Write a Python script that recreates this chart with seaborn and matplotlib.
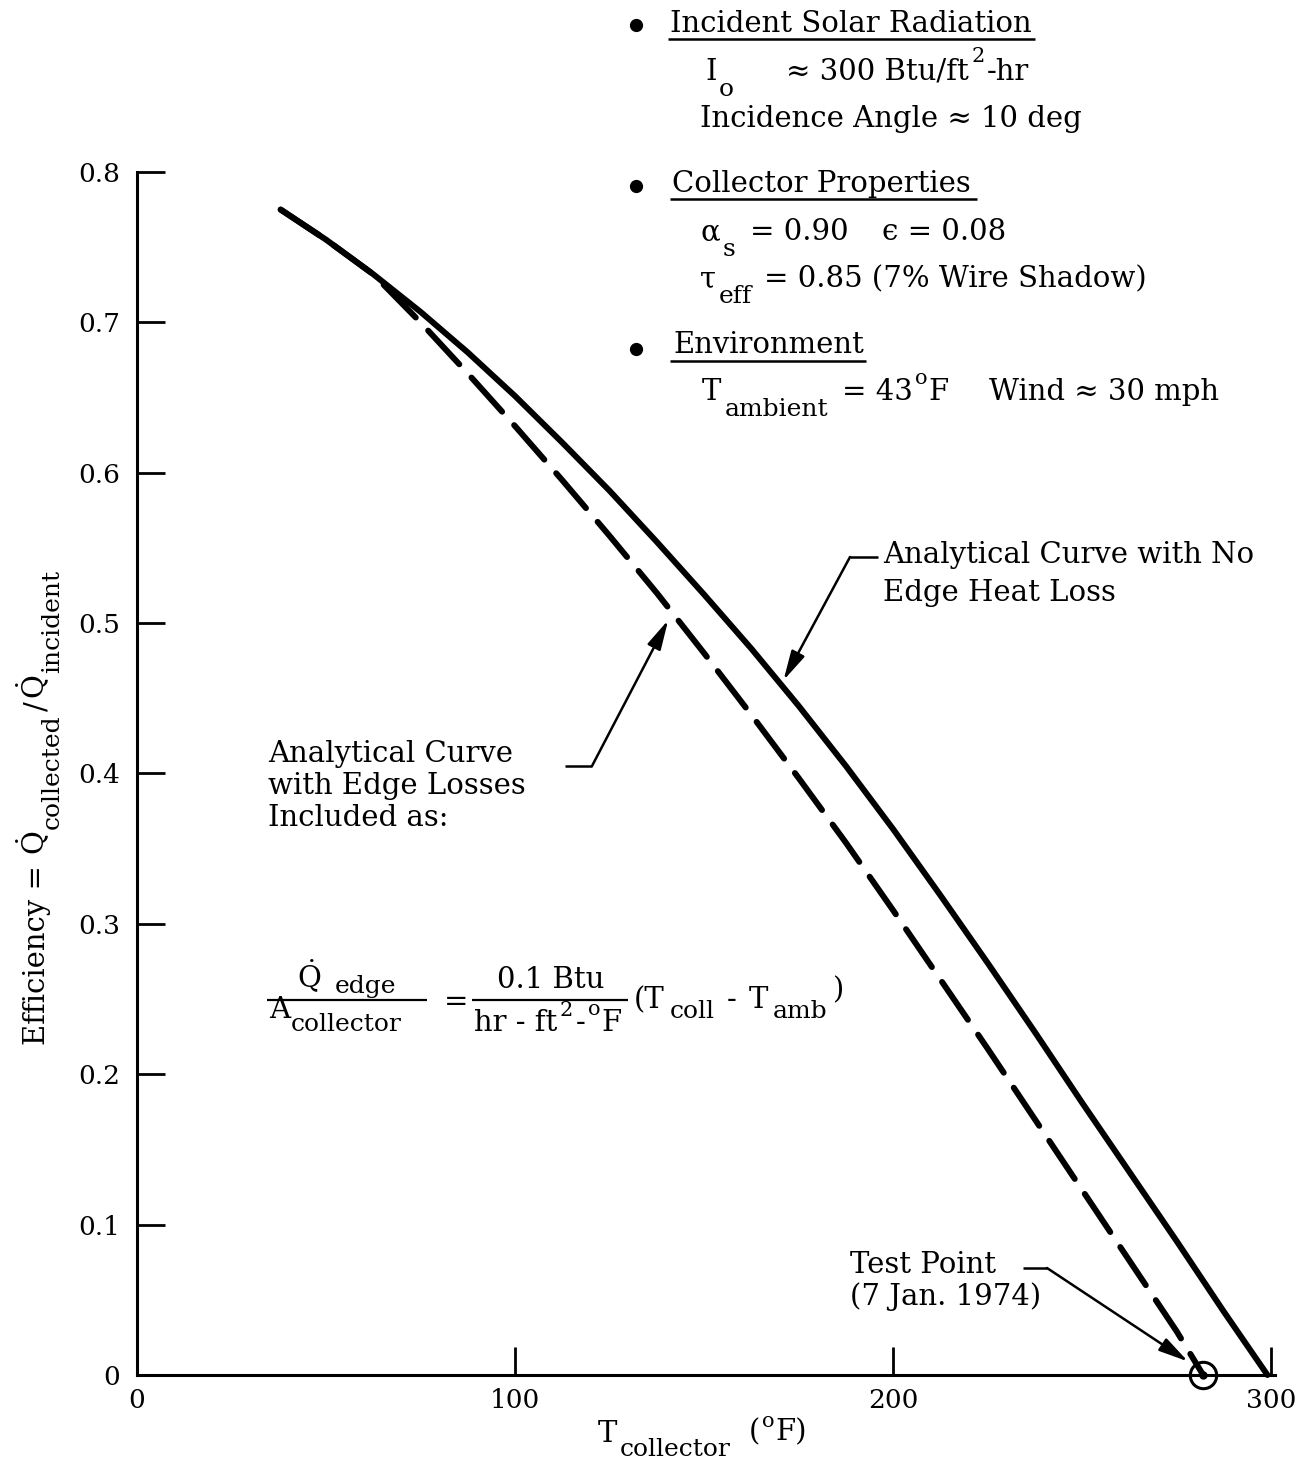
import matplotlib
matplotlib.use("Agg")
import matplotlib.pyplot as plt
from matplotlib.lines import Line2D
import numpy as np
import pandas as pd
import seaborn as sns

# Collector temperature (deg F) and efficiency for the two analytical curves
t_no_edge = [38, 50, 62.5, 75, 87.5, 100, 112.5, 125, 137.5, 150, 162.5, 175, 187.5,
             200, 212.5, 225, 237.5, 250, 262.5, 275, 287.5, 299]
eff_no_edge = [0.775, 0.755, 0.732, 0.707, 0.680, 0.651, 0.620, 0.588, 0.554, 0.519,
               0.483, 0.445, 0.405, 0.363, 0.319, 0.274, 0.228, 0.181, 0.135, 0.089,
               0.042, 0.0]

t_edge = [38, 50, 62.5, 75, 87.5, 100, 112.5, 125, 137.5, 150, 162.5, 175, 187.5,
          200, 212.5, 225, 237.5, 250, 262.5, 275, 282]
eff_edge = [0.775, 0.755, 0.732, 0.700, 0.666, 0.631, 0.595, 0.558, 0.520, 0.480,
            0.439, 0.397, 0.354, 0.309, 0.263, 0.217, 0.170, 0.123, 0.076, 0.029, 0.0]

# Measured test point (7 Jan. 1974)
test_t = [282]
test_eff = [0.0]

x_ticks = [0, 100, 200, 300]
x_tick_labels = ["0", "100", "200", "300"]
y_ticks = [0, 0.1, 0.2, 0.3, 0.4, 0.5, 0.6, 0.7, 0.8]
y_tick_labels = ["0", "0.1", "0.2", "0.3", "0.4", "0.5", "0.6", "0.7", "0.8"]

curves = pd.concat([
    pd.DataFrame({"T": t_no_edge, "eff": eff_no_edge, "curve": "no edge loss"}),
    pd.DataFrame({"T": t_edge, "eff": eff_edge, "curve": "edge losses"}),
], ignore_index=True)

sns.set_theme(style="ticks")
plt.rcParams["font.family"] = ["DejaVu Serif", "DejaVu Sans"]
plt.rcParams["mathtext.fontset"] = "dejavuserif"
plt.rcParams["lines.scale_dashes"] = False

W, H = 1309, 1462
fig = plt.figure(figsize=(W / 100, H / 100), dpi=100)
fig.patch.set_facecolor("white")
ax = fig.add_axes([137 / W, 1 - 1375 / H, (1275 - 137) / W, (1375 - 172) / H])
ax.set_facecolor("white")
renderer = fig.canvas.get_renderer()

FS = 21      # body text
SUB = 18     # subscripts
SUP = 15     # superscripts
QDOT = r"$\dot{\rm Q}$"


def fx(x):
    return x / W


def fy(y):
    return 1 - y / H


def put(x, y, s, size=FS, **kw):
    return fig.text(fx(x), fy(y), s, fontsize=size, ha="left", va="baseline",
                    color="black", **kw)


def chain(x, y, pieces):
    """Lay out (text, size, dy, gap) pieces left to right from pixel (x, y)."""
    pos = x
    for s, size, dy, gap in pieces:
        pos += gap
        t = put(pos, y + dy, s, size)
        pos += t.get_window_extent(renderer).width
    return pos


def vchain(x, y, pieces):
    """Lay out (text, size, dx, gap) pieces bottom to top, rotated 90 degrees."""
    pos = y
    for s, size, dx, gap in pieces:
        pos -= gap
        t = fig.text(fx(x + dx), fy(pos), s, fontsize=size, rotation=90,
                     rotation_mode="anchor", ha="left", va="baseline", color="black")
        pos -= t.get_window_extent(renderer).height
    return pos


def hline(x0, x1, y, lw=1.8):
    fig.add_artist(Line2D([fx(x0), fx(x1)], [fy(y), fy(y)], transform=fig.transFigure,
                          color="black", lw=lw, solid_capstyle="butt"))


def bullet(x, y):
    fig.add_artist(Line2D([fx(x)], [fy(y)], transform=fig.transFigure, marker="o",
                          ms=8.5, color="black", lw=0))


# Curves
sns.lineplot(data=curves, x="T", y="eff", style="curve",
             dashes={"no edge loss": "", "edge losses": (33, 13)},
             color="black", lw=4.3, legend=False, errorbar=None, ax=ax,
             dash_capstyle="round", solid_capstyle="round", clip_on=False)

# Test point: circle with a centre dot
ax.plot(test_t, test_eff, marker="o", ms=19, mfc="none", mec="black", mew=2.2,
        lw=0, clip_on=False, zorder=5)
ax.plot(test_t, test_eff, marker="o", ms=5, color="black", lw=0, clip_on=False, zorder=6)

# Axes styling
ax.set_xlim(0, 301)
ax.set_ylim(0, 0.8)
ax.set_xticks(x_ticks)
ax.set_xticklabels(x_tick_labels)
ax.set_yticks(y_ticks)
ax.set_yticklabels(y_tick_labels)
ax.tick_params(axis="both", direction="in", length=20, width=2, colors="black",
               labelsize=19)
ax.tick_params(axis="y", pad=12)
ax.tick_params(axis="x", pad=9)
ax.set_xlabel("")
ax.set_ylabel("")
sns.despine(ax=ax)
for side in ("left", "bottom"):
    ax.spines[side].set_linewidth(2.2)
    ax.spines[side].set_color("black")

# Axis titles
chain(598, 1442, [("T", FS, 0, 0), ("collector", SUB, 14, 2), ("(", FS, -2, 18),
                  ("o", SUP, -15, 2), ("F)", FS, -2, 1)])
vchain(45, 1045, [("Efficiency =", FS, 0, 0), (QDOT, FS, 0, 10),
                  ("collected", SUB, 14, 2), ("/", FS, 0, 3), (QDOT, FS, 0, 2),
                  ("incident", SUB, 14, 2)])

# Test conditions block
bullet(636, 25)
end = chain(670, 32, [("Incident Solar Radiation", FS, 0, 0)])
hline(668, end + 3, 39)
chain(705, 80, [("I", FS, 0, 0), ("o", SUB, 16, 2), ("≈ 300 Btu/ft", FS, 0, 52),
                ("2", SUP, -18, 3), ("-hr", FS, 0, 2)])
put(700, 127, "Incidence Angle ≈ 10 deg")

bullet(636, 186)
end = chain(672, 192, [("Collector Properties", FS, 0, 0)])
hline(670, end + 6, 199)
chain(700, 240, [("α", FS, 0, 0), ("s", SUB, 16, 3), ("= 0.90", FS, 0, 14),
                 ("ϵ = 0.08", FS, 0, 34)])
chain(700, 287, [("τ", FS, 0, 0), ("eff", SUB, 16, 3), ("= 0.85 (7% Wire Shadow)", FS, 0, 12)])

bullet(636, 349)
end = chain(673, 353, [("Environment", FS, 0, 0)])
hline(670, end + 2, 361)
chain(702, 400, [("T", FS, 0, 0), ("ambient", SUB, 16, 3), ("= 43", FS, 0, 14),
                 ("o", SUP, -16, 2), ("F", FS, 0, 1), ("Wind ≈ 30 mph", FS, 0, 40)])

# Callout: curve without edge loss
put(883, 563, "Analytical Curve with No")
put(883, 601, "Edge Heat Loss")
hline(850, 878, 557)
arrow = dict(arrowstyle="-|>,head_length=0.9,head_width=0.22", color="black", lw=1.8,
             mutation_scale=20, shrinkA=0, shrinkB=0)
ax.annotate("", xy=(171, 0.462), xycoords="data", xytext=(fx(850), fy(557)),
            textcoords="figure fraction", arrowprops=arrow)

# Callout: curve with edge losses
put(268, 762, "Analytical Curve")
put(268, 794, "with Edge Losses")
put(268, 826, "Included as:")
hline(565, 592, 766)
ax.annotate("", xy=(140.5, 0.502), xycoords="data", xytext=(fx(592), fy(766)),
            textcoords="figure fraction", arrowprops=arrow)

# Edge-loss relation
n1 = chain(297, 988, [(QDOT, FS, 0, 0), ("edge", SUB, 5, 14)])
d1 = chain(269, 1018, [("A", FS, 0, 0), ("collector", SUB, 13, 1)])
hline(267, max(n1, d1, 425) + 2, 1000, lw=1.6)
put(444, 1010, "=")
n2 = chain(497, 988, [("0.1 Btu", FS, 0, 0)])
d2 = chain(474, 1031, [("hr - ft", FS, 0, 0), ("2", SUP, -15, 2), ("-", FS, 0, 3),
                       ("o", SUP, -16, 3), ("F", FS, 0, 1)])
hline(472, max(n2, d2) + 6, 1000, lw=1.6)
chain(max(n2, d2) + 12, 1008, [("(T", FS, 0, 0), ("coll", SUB, 10, 5), ("-", FS, 0, 12),
                               ("T", FS, 0, 12), ("amb", SUB, 10, 5), (")", FS, -10, 5)])

# Callout: test point
put(850, 1273, "Test Point")
put(850, 1305, "(7 Jan. 1974)")
hline(1023, 1047, 1268)
ax.annotate("", xy=(278, 0.009), xycoords="data", xytext=(fx(1047), fy(1268)),
            textcoords="figure fraction", arrowprops=arrow)

fig.savefig("out.png", dpi=100, facecolor="white")
